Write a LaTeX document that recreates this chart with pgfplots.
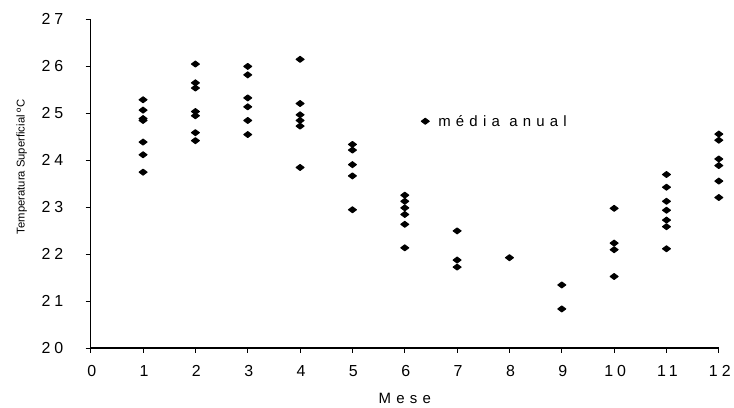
\documentclass[border=0pt]{standalone}
\usepackage{pgfplots}
\pgfplotsset{compat=1.18}
\usepackage{fontspec}
\setmainfont{Liberation Sans}
\newfontfamily\ticksf[LetterSpace=25]{Liberation Sans}
\newfontfamily\spacedsf[LetterSpace=35]{Liberation Sans}
\begin{document}
\begin{tikzpicture}
\begin{axis}[
  name=ax,
  scale only axis,
  width=630pt, height=330pt,
  xmin=0, xmax=12, ymin=20, ymax=27,
  axis lines=left,
  axis line style={-, line width=1.3pt, black},
  xtick={0,1,...,12}, ytick={20,21,...,27},
  tick align=outside,
  major tick length=5pt,
  tick style={black, line width=0.8pt},
  /pgf/number format/assume math mode=true,
  xticklabel style={font=\fontsize{16}{18}\selectfont\ticksf, yshift=-9pt, xshift=1pt},
  yticklabel style={font=\fontsize{16}{18}\selectfont\ticksf, xshift=-19pt},
  xlabel={Mese},
  xlabel style={font=\fontsize{15}{17}\selectfont\spacedsf, at={(axis description cs:0.5,0)}, anchor=center, yshift=-51pt},
  ylabel={Temperatura Superficial ºC},
  ylabel style={font=\fontsize{11.3}{13}\selectfont, at={(axis description cs:-0.11,0.55)}, anchor=center},
  legend style={at={(0.526,0.689)}, anchor=west, draw=none, fill=none, inner sep=0pt,
    font=\fontsize{15}{17}\selectfont\spacedsf},
  legend cell align=left,
  clip=false,
]
\addplot[only marks, mark=diamond*, mark size=4pt, mark options={rotate=90, fill=black, draw=black, line width=1pt, line join=round}]
coordinates {
(1,25.28) (1,25.06) (1,24.88) (1,24.84) (1,24.38) (1,24.11) (1,23.74)
(2,26.04) (2,25.64) (2,25.53) (2,25.03) (2,24.94) (2,24.58) (2,24.41)
(3,25.99) (3,25.81) (3,25.32) (3,25.13) (3,24.84) (3,24.54)
(4,26.14) (4,25.20) (4,24.96) (4,24.84) (4,24.72) (4,23.84)
(5,24.33) (5,24.21) (5,23.90) (5,23.66) (5,22.94)
(6,23.25) (6,23.12) (6,22.98) (6,22.84) (6,22.63) (6,22.13)
(7,22.49) (7,21.87) (7,21.72)
(8,21.92)
(9,21.34) (9,20.83)
(10,22.97) (10,22.23) (10,22.09) (10,21.52)
(11,23.69) (11,23.42) (11,23.12) (11,22.93) (11,22.72) (11,22.58) (11,22.11)
(12,24.55) (12,24.42) (12,24.02) (12,23.88) (12,23.55) (12,23.20)
};
\addlegendentry{\hspace{7pt}média anual}
\end{axis}
\path ([shift={(-91pt,-59pt)}]ax.south west) rectangle ([shift={(13pt,19pt)}]ax.north east);
\end{tikzpicture}
\end{document}
